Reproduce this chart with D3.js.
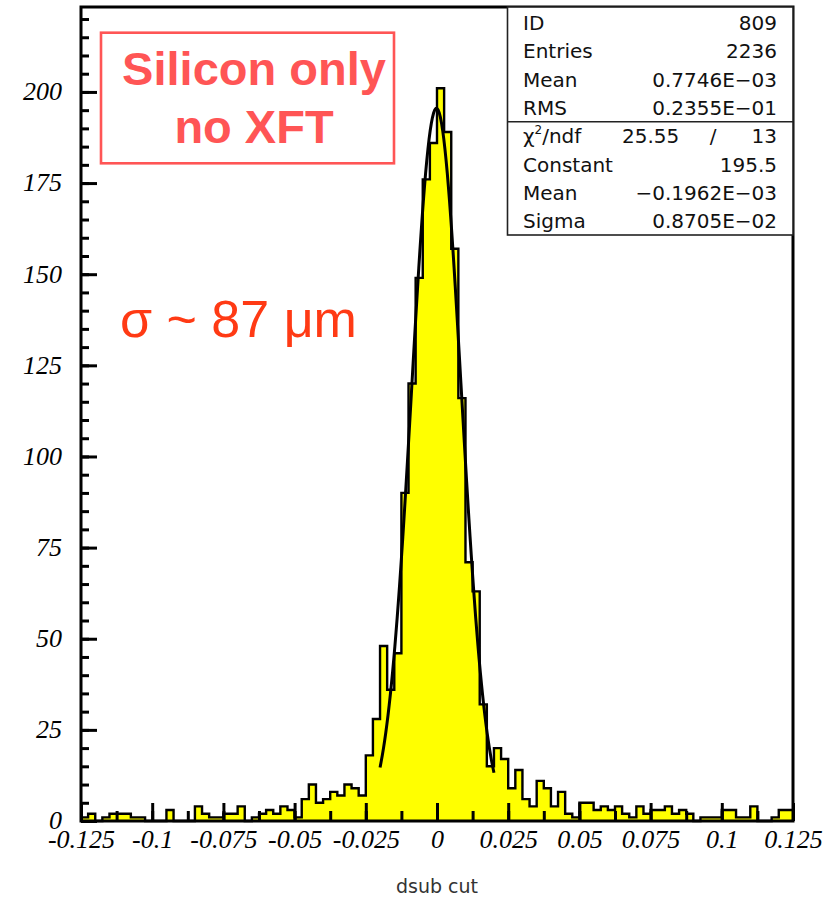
<!DOCTYPE html>
<html>
<head>
<meta charset="utf-8">
<script src="https://cdn.jsdelivr.net/npm/d3@7"></script>
<style>
  body { margin: 0; background: #fff; }
  svg { display: block; }
</style>
</head>
<body>
<svg id="chart" width="838" height="899"></svg>
<script>
// histogram "dsub cut", 100 bins from -0.125 to 0.125 (counts)
const counts = [
  1, 2, 0, 1, 2, 2, 2, 1, 1, 0,
  0, 0, 3, 0, 0, 0, 4, 2, 1, 1,
  2, 2, 4, 0, 1, 2, 3, 2, 4, 3,
  1, 6, 10, 5, 6, 8, 7, 10, 9, 7,
  18, 28, 48, 36, 46, 90, 120, 149, 176, 186,
  201, 189, 157, 116, 71, 63, 32, 15, 20, 17,
  9, 14, 6, 4, 11, 9, 4, 8, 2, 1,
  5, 5, 3, 4, 3, 4, 2, 1, 4, 2,
  3, 3, 4, 2, 3, 2, 0, 1, 1, 1,
  3, 3, 1, 1, 4, 0, 0, 1, 3, 3
];
const xMin = -0.125;
const xMax = 0.125;
const yMax = 223.3;

const xTickValues = [-0.125, -0.1, -0.075, -0.05, -0.025, 0, 0.025, 0.05, 0.075, 0.1, 0.125];
const xTickLabels = ['-0.125', '-0.1', '-0.075', '-0.05', '-0.025', '0', '0.025', '0.05', '0.075', '0.1', '0.125'];
const yTickValues = [0, 25, 50, 75, 100, 125, 150, 175, 200];

// gaussian fit shown in the stats box
const fitConstant = 195.5;
const fitMean = -0.1962e-3;
const fitSigma = 0.8705e-2;
const fitRange = [-0.02, 0.02];

const statNames = ['ID', 'Entries', 'Mean', 'RMS'];
const statValues = ['809', '2236', '0.7746E\u221203', '0.2355E\u221201'];
const fitNames = ['Constant', 'Mean', 'Sigma'];
const fitValues = ['195.5', '\u22120.1962E\u221203', '0.8705E\u221202'];
const chi2 = '25.55';
const ndf = '13';

let svg = d3.select('#chart');

let pLeft = 81, pRight = 793, pTop = 7, pBottom = 821;

let xScale = d3.scaleLinear()
  .domain([xMin, xMax])
  .range([pLeft, pRight]);

let yScale = d3.scaleLinear()
  .domain([0, yMax])
  .range([pBottom, pTop]);

let binWidth = (xMax - xMin) / counts.length;
let bins = counts.map((c, i) => ({ x0: xMin + i * binWidth, c: c }));
bins.push({ x0: xMax, c: counts[counts.length - 1] });

// yellow fill + black step outline
svg.append('path')
  .datum(bins)
  .attr('fill', '#ffff00')
  .attr('d', d3.area()
    .x((d) => xScale(d.x0))
    .y0(yScale(0))
    .y1((d) => yScale(d.c))
    .curve(d3.curveStepAfter));

svg.append('path')
  .datum(bins)
  .attr('fill', 'none')
  .attr('stroke', '#000')
  .attr('stroke-width', 2.4)
  .attr('d', d3.line()
    .x((d) => xScale(d.x0))
    .y((d) => yScale(d.c))
    .curve(d3.curveStepAfter));

// fit curve
let fitX = d3.range(fitRange[0], fitRange[1] + 1e-9, 0.0004);
svg.append('path')
  .datum(fitX)
  .attr('fill', 'none')
  .attr('stroke', '#000')
  .attr('stroke-width', 3)
  .attr('d', d3.line()
    .x((d) => xScale(d))
    .y((d) => yScale(fitConstant * Math.exp(-0.5 * Math.pow((d - fitMean) / fitSigma, 2)))));

// AXES (ticks point inward like PAW)
let yMinor = d3.range(0, 221, 5);
svg.append('g')
  .attr('transform', `translate(${pLeft},0)`)
  .call(d3.axisLeft(yScale).tickValues(yMinor).tickSizeInner(-8).tickSizeOuter(0).tickFormat(''))
  .call((g) => g.select('.domain').remove());

let yAxis = svg.append('g')
  .attr('transform', `translate(${pLeft},0)`)
  .call(d3.axisLeft(yScale).tickValues(yTickValues).tickSizeInner(-16).tickSizeOuter(0).tickPadding(19));
yAxis.select('.domain').remove();
yAxis.selectAll('text')
  .attr('font-family', 'Liberation Serif, serif')
  .attr('font-style', 'italic')
  .attr('font-size', 26)
  .attr('dy', '0.3em');

let xMinor = d3.range(-0.125, 0.1251, 0.0125);
svg.append('g')
  .attr('transform', `translate(0,${pBottom})`)
  .call(d3.axisBottom(xScale).tickValues(xMinor).tickSizeInner(-10).tickSizeOuter(0).tickFormat(''))
  .call((g) => g.select('.domain').remove());

let xAxis = svg.append('g')
  .attr('transform', `translate(0,${pBottom})`)
  .call(d3.axisBottom(xScale).tickValues(xTickValues).tickSizeInner(-18).tickSizeOuter(0).tickPadding(9)
    .tickFormat((d, i) => xTickLabels[i]));
xAxis.select('.domain').remove();
xAxis.selectAll('text')
  .attr('font-family', 'Liberation Serif, serif')
  .attr('font-style', 'italic')
  .attr('font-size', 26)
  .attr('fill', '#000');

svg.selectAll('.tick line')
  .attr('stroke', '#000')
  .attr('stroke-width', 3);

// frame
svg.append('rect')
  .attr('x', pLeft)
  .attr('y', pTop)
  .attr('width', pRight - pLeft)
  .attr('height', pBottom - pTop)
  .attr('fill', 'none')
  .attr('stroke', '#000')
  .attr('stroke-width', 3);

svg.append('text')
  .attr('x', 437)
  .attr('y', 893)
  .attr('text-anchor', 'middle')
  .attr('font-family', 'DejaVu Sans, sans-serif')
  .attr('font-size', 19)
  .attr('fill', '#333')
  .text('dsub cut');

// stats box
let boxX = 507.5, rowH = 28.3, sepY = 121.7;
svg.append('rect')
  .attr('x', boxX)
  .attr('y', pTop)
  .attr('width', pRight - boxX)
  .attr('height', 235 - pTop)
  .attr('fill', '#fff')
  .attr('stroke', '#222')
  .attr('stroke-width', 1.6);
svg.append('line')
  .attr('x1', boxX).attr('x2', pRight)
  .attr('y1', sepY).attr('y2', sepY)
  .attr('stroke', '#222')
  .attr('stroke-width', 1.6);

let allNames = statNames.concat([''], fitNames);
let allValues = statValues.concat([''], fitValues);
let statText = svg.append('g')
  .attr('font-family', 'DejaVu Sans, sans-serif')
  .attr('font-size', 20)
  .attr('fill', '#111');

statText.selectAll('.name')
  .data(allNames)
  .enter()
  .append('text')
  .attr('x', 523)
  .attr('y', (d, i) => 30 + i * rowH)
  .text((d) => d);

statText.selectAll('.val')
  .data(allValues)
  .enter()
  .append('text')
  .attr('x', 777)
  .attr('y', (d, i) => 30 + i * rowH)
  .attr('text-anchor', 'end')
  .text((d) => d);

let chiY = 30 + 4 * rowH;
let chiLabel = statText.append('text')
  .attr('x', 523)
  .attr('y', chiY);
chiLabel.append('tspan').text('\u03c7');
chiLabel.append('tspan').attr('font-size', 12).attr('dy', -9).text('2');
chiLabel.append('tspan').attr('dy', 9).text('/ndf');
statText.append('text').attr('x', 622).attr('y', chiY).text(chi2);
statText.append('text').attr('x', 713).attr('y', chiY).attr('text-anchor', 'middle').text('/');
statText.append('text').attr('x', 777).attr('y', chiY).attr('text-anchor', 'end').text(ndf);

// annotations
svg.append('rect')
  .attr('x', 101)
  .attr('y', 32.7)
  .attr('width', 293)
  .attr('height', 130.6)
  .attr('fill', 'none')
  .attr('stroke', '#ff5555')
  .attr('stroke-width', 2.6);

let note = svg.append('text')
  .attr('text-anchor', 'middle')
  .attr('font-family', 'Liberation Sans, Arial, sans-serif')
  .attr('font-weight', 'bold')
  .attr('font-size', 47)
  .attr('fill', '#ff5555');
note.append('tspan').attr('x', 254).attr('y', 85).text('Silicon only');
note.append('tspan').attr('x', 254).attr('y', 143).text('no XFT');

svg.append('text')
  .attr('x', 120)
  .attr('y', 337)
  .attr('font-family', 'Liberation Sans, Arial, sans-serif')
  .attr('font-size', 52)
  .attr('fill', '#ff3a14')
  .text('\u03c3 ~ 87 \u03bcm');
</script>
</body>
</html>
